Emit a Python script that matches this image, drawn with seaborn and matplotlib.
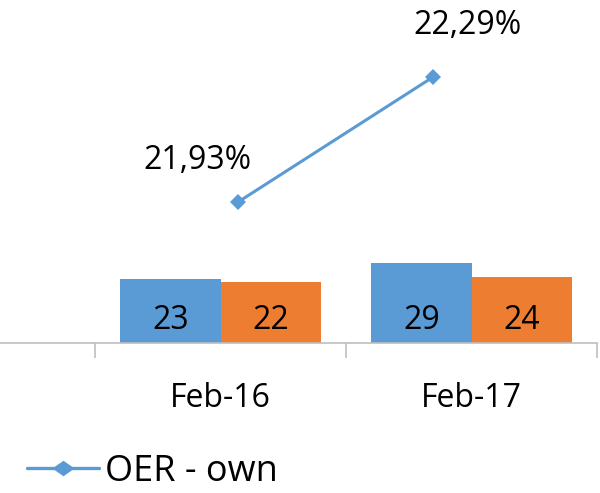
import matplotlib
matplotlib.use("Agg")
import matplotlib.pyplot as plt
import seaborn as sns
import pandas as pd
from matplotlib.lines import Line2D

categories = ["Feb-16", "Feb-17"]
series_names = ["A", "B"]
bar_a = [23, 29]
bar_b = [22, 24]
oer_values = [21.93, 22.29]
oer_labels = ["21,93%", "22,29%"]
legend_label = "OER - own"

BLUE = "#5B9BD5"
ORANGE = "#ED7D31"
GRID = "#BFBFBF"

sns.set_theme(style="white")
plt.rcParams["font.family"] = ["Open Sans", "DejaVu Sans"]
plt.rcParams["text.color"] = "black"
plt.rcParams["xtick.color"] = "black"

DIAMOND = [(-1.0, 0.0), (0.0, 0.7), (1.0, 0.0), (0.0, -0.7), (-1.0, 0.0)]

df = pd.DataFrame({
    "cat": categories * 2,
    "series": [series_names[0]] * 2 + [series_names[1]] * 2,
    "value": bar_a + bar_b,
})

fig = plt.figure(figsize=(6.0, 4.93), dpi=100)
left, right = 0.0, 597 / 600
bottom = (493 - 343) / 493
ax = fig.add_axes([left, bottom, right - left, 1 - bottom])

sns.barplot(data=df, x="cat", y="value", hue="series", order=categories,
            hue_order=series_names, palette=[BLUE, ORANGE], width=0.8,
            saturation=1, legend=False, linewidth=0, ax=ax)
ax.set_xlim(-0.88, 1.5)
ax.set_ylim(0, 124)
for p in ax.patches:
    h = p.get_height()
    if h > 0:
        ax.text(p.get_x() + p.get_width() / 2, 8.0, f"{int(round(h))}",
                ha="center", va="center", fontsize=23, color="black")

for s in ["top", "right", "left"]:
    ax.spines[s].set_visible(False)
ax.spines["bottom"].set_color(GRID)
ax.spines["bottom"].set_linewidth(1.2)
ax.set_yticks([])
ax.set_xlabel("")
ax.set_ylabel("")
ax.set_xticks([0, 1])
ax.set_xticklabels(categories, fontsize=23, color="black")
ax.tick_params(axis="x", which="major", length=0, pad=28)
ax.set_xticks([-0.5, 0.5, 1.5], minor=True)
ax.tick_params(axis="x", which="minor", length=11, color=GRID, width=1.2,
               direction="out", bottom=True)

# secondary overlay for the OER line
ax2 = fig.add_axes([left, bottom, right - left, 1 - bottom], frameon=False)
ax2.set_xlim(-238 / 195, (597 - 238) / 195)
ax2.set_ylim(21.524, 22.512)
sns.lineplot(x=[0, 1], y=oer_values, ax=ax2, color=BLUE, linewidth=2.2,
             marker="D", markersize=8, markeredgewidth=0)
ax2.set_xticks([])
ax2.set_yticks([])
offsets = [(-41, 42), (34, 52)]
for i, (v, lab) in enumerate(zip(oer_values, oer_labels)):
    ax2.annotate(lab, (i, v), xytext=offsets[i], textcoords="offset pixels",
                 ha="center", va="center", fontsize=23, color="black")

handle = Line2D([], [], color=BLUE, linewidth=2.4, marker=DIAMOND,
                markersize=16, markeredgewidth=0)
leg = fig.legend([handle], [legend_label], loc="center left",
                 bbox_to_anchor=(0.045, 1 - 472 / 493), frameon=False,
                 fontsize=26, handlelength=2.0, handletextpad=0.15,
                 borderaxespad=0, borderpad=0)
for t in leg.get_texts():
    t.set_color("black")

fig.savefig("out.png", dpi=100)
